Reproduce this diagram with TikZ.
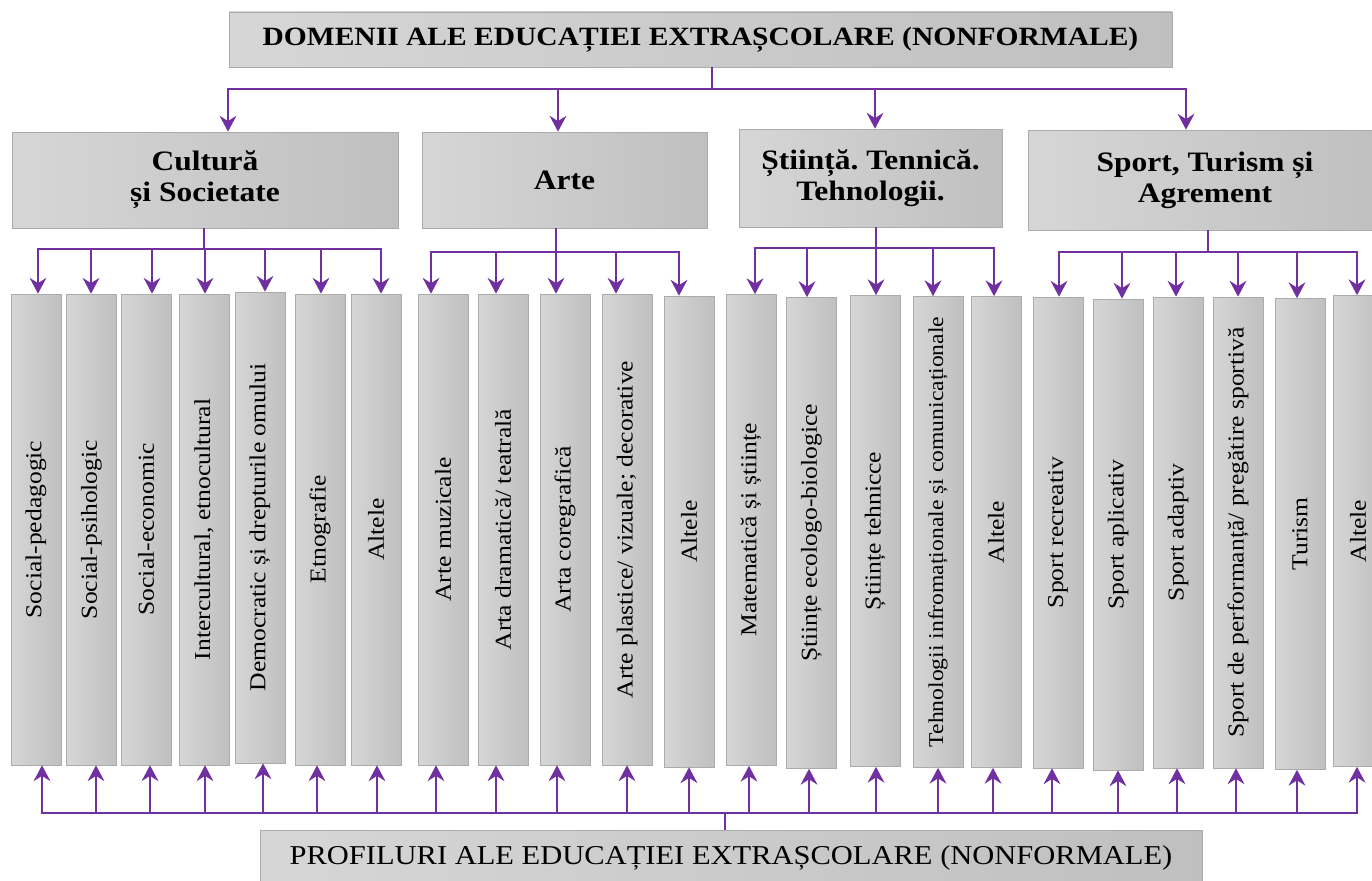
\documentclass[tikz,border=0pt]{standalone}
\usepackage{graphicx}
\usepackage{fontspec}
\setmainfont{Liberation Serif}[FakeStretch=1.12]
\usepackage{tikz}
\usetikzlibrary{arrows.meta, positioning, calc}
\definecolor{lineviolet}{HTML}{7030A0}
\frenchspacing

\tikzset{
  graybox/.style={draw=black!33, left color=black!16, right color=black!25, inner sep=1pt, align=center},
  fieldbox/.style={graybox, font=\bfseries\fontsize{16}{17.6}\selectfont},
  profbox/.style={graybox, minimum width=1cm, minimum height=9.42cm, font=\fontsize{13}{15}\selectfont},
  arr/.style={lineviolet, line width=1.3pt, -{Stealth[length=9pt, width=9.5pt, inset=3pt]}},
  bus/.style={lineviolet, line width=1.2pt, line cap=rect},
  stem/.style={lineviolet, line width=0.7pt}
}

\begin{document}
\begin{tikzpicture}[x=0.02cm, y=-0.02cm]
\useasboundingbox (0,0) rectangle (1372,881);

% titles
\node[graybox, minimum width=18.86cm, minimum height=1.1cm, font=\bfseries\fontsize{15}{18}\selectfont] (dom) at (700.5,39.5) {DOMENII ALE EDUCAȚIEI EXTRAȘCOLARE (NONFORMALE)};
\node[graybox, minimum width=18.84cm, minimum height=1.1cm, font=\fontsize{15.5}{18}\selectfont] (prof) at (731,857.5) {PROFILURI ALE EDUCAȚIEI EXTRAȘCOLARE (NONFORMALE)};

% domains
\node[fieldbox, minimum width=7.72cm, minimum height=1.92cm] (cult) at (205,180) {Cultură\\și Societate};
\node[fieldbox, minimum width=5.7cm, minimum height=1.92cm] (arte) at (564.5,180) {Arte};
\node[fieldbox, minimum width=5.26cm, minimum height=1.96cm] (stiin) at (870.5,178) {Știință. Tennică.\\Tehnologii.};
\node[fieldbox, minimum width=7.08cm, minimum height=2cm] (sport) at (1205,180) {Sport, Turism și\\Agrement};

% profiles
\node[profbox] (p1) at (36,529.5) {\rotatebox{90}{Social-pedagogic}};
\node[profbox] (p2) at (91.5,529.5) {\rotatebox{90}{Social-psihologic}};
\node[profbox] (p3) at (146,529.5) {\rotatebox{90}{Social-economic}};
\node[profbox] (p4) at (204,529.5) {\rotatebox{90}{Intercultural, etnocultural}};
\node[profbox] (p5) at (260,527.5) {\rotatebox{90}{Democratic și drepturile omului}};
\node[profbox] (p6) at (320,529.5) {\rotatebox{90}{Etnografie}};
\node[profbox] (p7) at (376,529.5) {\rotatebox{90}{Altele}};
\node[profbox] (p8) at (443,529.5) {\rotatebox{90}{Arte muzicale}};
\node[profbox] (p9) at (503,529.5) {\rotatebox{90}{Arta dramatică/ teatrală}};
\node[profbox] (p10) at (565,529.5) {\rotatebox{90}{Arta coregrafică}};
\node[profbox] (p11) at (627,529.5) {\rotatebox{90}{Arte plastice/ vizuale; decorative}};
\node[profbox] (p12) at (689,531.5) {\rotatebox{90}{Altele}};
\node[profbox] (p13) at (751,530) {\rotatebox{90}{Matematică și științe}};
\node[profbox] (p14) at (811.5,533) {\rotatebox{90}{Științe ecologo-biologice}};
\node[profbox] (p15) at (875,531) {\rotatebox{90}{Științe tehnicce}};
\node[profbox, font=\fontsize{12}{14}\selectfont] (p16) at (938,532) {\rotatebox{90}{Tehnologii infromaționale și comunicaționale}};
\node[profbox] (p17) at (996,532) {\rotatebox{90}{Altele}};
\node[profbox] (p18) at (1058,532.5) {\rotatebox{90}{Sport recreativ}};
\node[profbox] (p19) at (1118,534.5) {\rotatebox{90}{Sport aplicativ}};
\node[profbox] (p20) at (1178,532.5) {\rotatebox{90}{Sport adaptiv}};
\node[profbox] (p21) at (1238,532.5) {\rotatebox{90}{Sport de performanță/ pregătire sportivă}};
\node[profbox] (p22) at (1300,534) {\rotatebox{90}{Turism}};
\node[profbox] (p23) at (1358,531) {\rotatebox{90}{Altele}};

% title -> domains
\coordinate (ts) at (712,89);
\coordinate (t1) at (228,89);
\coordinate (t2) at (558,89);
\coordinate (t3) at (875,89);
\coordinate (t4) at (1186,89);
\draw[stem] (ts |- dom.south) -- (ts);
\draw[bus] (t1) -- (t4);
\draw[arr] (t1) -- (t1 |- cult.north);
\draw[arr] (t2) -- (t2 |- arte.north);
\draw[arr] (t3) -- (t3 |- stiin.north);
\draw[arr] (t4) -- (t4 |- sport.north);

% cultura
\coordinate (cs) at (204,249);
\coordinate (c1) at (38,249);
\coordinate (c2) at (91,249);
\coordinate (c3) at (152,249);
\coordinate (c4) at (205,249);
\coordinate (c5) at (265,249);
\coordinate (c6) at (321,249);
\coordinate (c7) at (381,249);
\draw[stem] (cs |- cult.south) -- (cs);
\draw[bus] (c1) -- (c7);
\draw[arr] (c1) -- (c1 |- p1.north);
\draw[arr] (c2) -- (c2 |- p2.north);
\draw[arr] (c3) -- (c3 |- p3.north);
\draw[arr] (c4) -- (c4 |- p4.north);
\draw[arr] (c5) -- (c5 |- p5.north);
\draw[arr] (c6) -- (c6 |- p6.north);
\draw[arr] (c7) -- (c7 |- p7.north);

% arte
\coordinate (as) at (556,252);
\coordinate (a1) at (431,252);
\coordinate (a2) at (496,252);
\coordinate (a3) at (556,252);
\coordinate (a4) at (616,252);
\coordinate (a5) at (679,252);
\draw[stem] (as |- arte.south) -- (as);
\draw[bus] (a1) -- (a5);
\draw[arr] (a1) -- (a1 |- p8.north);
\draw[arr] (a2) -- (a2 |- p9.north);
\draw[arr] (a3) -- (a3 |- p10.north);
\draw[arr] (a4) -- (a4 |- p11.north);
\draw[arr] (a5) -- (a5 |- p12.north);

% stiinta
\coordinate (ss) at (876,248);
\coordinate (s1) at (755,248);
\coordinate (s2) at (807,248);
\coordinate (s3) at (876,248);
\coordinate (s4) at (933,248);
\coordinate (s5) at (994,248);
\draw[stem] (ss |- stiin.south) -- (ss);
\draw[bus] (s1) -- (s5);
\draw[arr] (s1) -- (s1 |- p13.north);
\draw[arr] (s2) -- (s2 |- p14.north);
\draw[arr] (s3) -- (s3 |- p15.north);
\draw[arr] (s4) -- (s4 |- p16.north);
\draw[arr] (s5) -- (s5 |- p17.north);

% sport
\coordinate (rs) at (1208,252);
\coordinate (r1) at (1059,252);
\coordinate (r2) at (1122,252);
\coordinate (r3) at (1176,252);
\coordinate (r4) at (1238,252);
\coordinate (r5) at (1297,252);
\coordinate (r6) at (1357,252);
\draw[stem] (rs |- sport.south) -- (rs);
\draw[bus] (r1) -- (r6);
\draw[arr] (r1) -- (r1 |- p18.north);
\draw[arr] (r2) -- (r2 |- p19.north);
\draw[arr] (r3) -- (r3 |- p20.north);
\draw[arr] (r4) -- (r4 |- p21.north);
\draw[arr] (r5) -- (r5 |- p22.north);
\draw[arr] (r6) -- (r6 |- p23.north);

% profiles -> bottom title
\coordinate (bs) at (725,813);
\coordinate (b1) at (42,813);
\coordinate (b2) at (96,813);
\coordinate (b3) at (150,813);
\coordinate (b4) at (205,813);
\coordinate (b5) at (263,813);
\coordinate (b6) at (317,813);
\coordinate (b7) at (377,813);
\coordinate (b8) at (436,813);
\coordinate (b9) at (496,813);
\coordinate (b10) at (557,813);
\coordinate (b11) at (627,813);
\coordinate (b12) at (689,813);
\coordinate (b13) at (749,813);
\coordinate (b14) at (809,813);
\coordinate (b15) at (876,813);
\coordinate (b16) at (938,813);
\coordinate (b17) at (993,813);
\coordinate (b18) at (1052,813);
\coordinate (b19) at (1118,813);
\coordinate (b20) at (1177,813);
\coordinate (b21) at (1236,813);
\coordinate (b22) at (1297,813);
\coordinate (b23) at (1357,813);
\draw[stem] (bs) -- (bs |- prof.north);
\draw[bus] (b1) -- (b23);
\draw[arr] (b1) -- (b1 |- p1.south);
\draw[arr] (b2) -- (b2 |- p2.south);
\draw[arr] (b3) -- (b3 |- p3.south);
\draw[arr] (b4) -- (b4 |- p4.south);
\draw[arr] (b5) -- (b5 |- p5.south);
\draw[arr] (b6) -- (b6 |- p6.south);
\draw[arr] (b7) -- (b7 |- p7.south);
\draw[arr] (b8) -- (b8 |- p8.south);
\draw[arr] (b9) -- (b9 |- p9.south);
\draw[arr] (b10) -- (b10 |- p10.south);
\draw[arr] (b11) -- (b11 |- p11.south);
\draw[arr] (b12) -- (b12 |- p12.south);
\draw[arr] (b13) -- (b13 |- p13.south);
\draw[arr] (b14) -- (b14 |- p14.south);
\draw[arr] (b15) -- (b15 |- p15.south);
\draw[arr] (b16) -- (b16 |- p16.south);
\draw[arr] (b17) -- (b17 |- p17.south);
\draw[arr] (b18) -- (b18 |- p18.south);
\draw[arr] (b19) -- (b19 |- p19.south);
\draw[arr] (b20) -- (b20 |- p20.south);
\draw[arr] (b21) -- (b21 |- p21.south);
\draw[arr] (b22) -- (b22 |- p22.south);
\draw[arr] (b23) -- (b23 |- p23.south);

\end{tikzpicture}
\end{document}
